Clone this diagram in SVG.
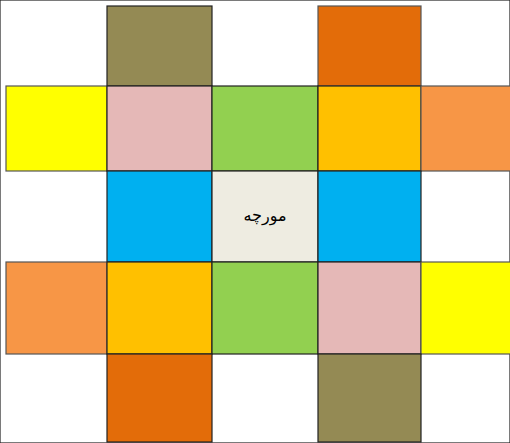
<svg xmlns="http://www.w3.org/2000/svg" width="510" height="443" viewBox="0 0 510 443">
<style>
rect{stroke:#222;stroke-width:1.2}
.o{stroke:#555}
text{font-family:"DejaVu Sans","Noto Sans",sans-serif;font-size:16px;fill:#000}
</style>
<rect width="510" height="443" fill="#fff" stroke="none"/>
<g id="n-top-left"><rect x="107" y="6" width="105" height="80" fill="#948A54"/></g>
<g id="n-top-right"><rect x="318" y="6" width="103" height="80" fill="#E36C09" class="o"/></g>
<g id="n-r1-0"><rect x="6" y="86" width="101" height="85" fill="#FFFF00" class="o"/></g>
<g id="n-r1-1"><rect x="107" y="86" width="105" height="85" fill="#E5B8B7"/></g>
<g id="n-r1-2"><rect x="212" y="86" width="106" height="85" fill="#92D050"/></g>
<g id="n-r1-3"><rect x="318" y="86" width="103" height="85" fill="#FFC000"/></g>
<g id="n-r1-4"><rect x="421" y="86" width="95" height="85" fill="#F79646" class="o"/></g>
<g id="n-r2-1"><rect x="107" y="171" width="105" height="91" fill="#00B0F0"/></g>
<g id="n-center"><rect x="212" y="171" width="106" height="91" fill="#EEECE1"/><text x="265" y="221" text-anchor="middle" direction="rtl">مورچه</text></g>
<g id="n-r2-3"><rect x="318" y="171" width="103" height="91" fill="#00B0F0"/></g>
<g id="n-r3-0"><rect x="6" y="262" width="101" height="92" fill="#F79646" class="o"/></g>
<g id="n-r3-1"><rect x="107" y="262" width="105" height="92" fill="#FFC000"/></g>
<g id="n-r3-2"><rect x="212" y="262" width="106" height="92" fill="#92D050"/></g>
<g id="n-r3-3"><rect x="318" y="262" width="103" height="92" fill="#E5B8B7"/></g>
<g id="n-r3-4"><rect x="421" y="262" width="95" height="92" fill="#FFFF00" class="o"/></g>
<g id="n-bottom-left"><rect x="107" y="354" width="105" height="88" fill="#E36C09"/></g>
<g id="n-bottom-right"><rect x="318" y="354" width="103" height="88" fill="#948A54"/></g>
<g id="connectors"></g>
</svg>
